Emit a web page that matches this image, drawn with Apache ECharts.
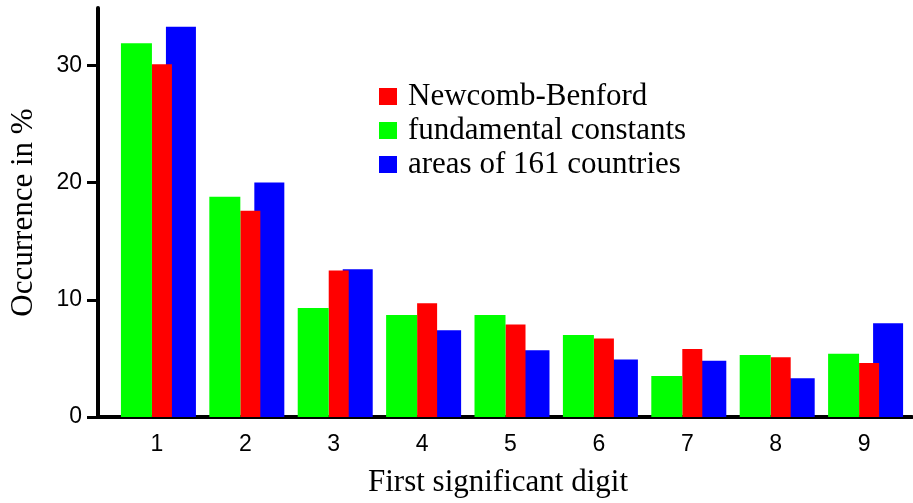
<!DOCTYPE html>
<html>
<head>
<meta charset="utf-8">
<style>
  html, body { margin: 0; padding: 0; background: #ffffff; }
  #chart { width: 913px; height: 503px; }
</style>
<script src="https://cdn.jsdelivr.net/npm/echarts@6/dist/echarts.min.js"></script>
</head>
<body>
<div id="chart"></div>
<script>
// First significant digit of each value
const digits = [1, 2, 3, 4, 5, 6, 7, 8, 9];

// Occurrence in % per first digit
const newcombBenford = [30.1, 17.6, 12.5, 9.7, 7.9, 6.7, 5.8, 5.1, 4.6];
const fundamentalConstants = [31.9, 18.8, 9.3, 8.7, 8.7, 7.0, 3.5, 5.3, 5.4];
const countryAreas = [33.3, 20.0, 12.6, 7.4, 5.7, 4.9, 4.8, 3.3, 8.0];

const yTicks = [0, 10, 20, 30];

const seriesNames = {
  benford: 'Newcomb-Benford',
  constants: 'fundamental constants',
  areas: 'areas of 161 countries'
};

const serif = 'Liberation Serif, Times New Roman, serif';
const sans = 'Liberation Sans, Arial, Helvetica, sans-serif';

// Bars are drawn as rectangles placed relative to the digit's position on the x scale;
// left/right are pixel offsets from that position.
function barRenderer(left, right) {
  return function (params, api) {
    const x = api.value(0);
    const base = api.coord([x, 0]);
    const top = api.coord([x, api.value(1)]);
    return {
      type: 'rect',
      shape: { x: base[0] + left, y: top[1], width: right - left, height: base[1] - top[1] },
      style: { fill: api.visual('color') }
    };
  };
}

function toPoints(values) {
  return digits.map((d, i) => [d, values[i]]);
}

const chart = echarts.init(document.getElementById('chart'), null, { renderer: 'canvas' });

chart.setOption({
  animation: false,
  backgroundColor: '#ffffff',
  grid: { left: 97, right: 1, top: 8, bottom: 82, containLabel: false },
  legend: {
    left: 379,
    top: 81,
    padding: 0,
    orient: 'vertical',
    icon: 'rect',
    itemWidth: 18,
    itemHeight: 17,
    itemGap: 3,
    selectedMode: false,
    data: [seriesNames.benford, seriesNames.constants, seriesNames.areas],
    textStyle: {
      fontFamily: serif,
      fontSize: 31,
      color: '#000000',
      padding: [0, 0, 0, 6]
    }
  },
  xAxis: {
    type: 'value',
    min: 0.3333,
    max: 9.542,
    name: 'First significant digit',
    nameLocation: 'middle',
    nameGap: 50,
    nameTextStyle: { fontFamily: serif, fontSize: 31, color: '#000000', padding: [0, 14, 0, 0] },
    axisLine: { show: true, onZero: false, lineStyle: { color: '#000000', width: 4 } },
    axisTick: { show: false },
    splitLine: { show: false },
    axisLabel: {
      customValues: digits,
      fontFamily: sans,
      fontSize: 23,
      color: '#000000',
      margin: 16
    }
  },
  yAxis: {
    type: 'value',
    min: 0,
    max: 34.9,
    name: 'Occurrence in %',
    nameLocation: 'middle',
    nameGap: 59,
    nameTextStyle: { fontFamily: serif, fontSize: 31, color: '#000000' },
    axisLine: { show: true, lineStyle: { color: '#000000', width: 4 } },
    axisTick: { show: true, customValues: yTicks, length: 11, lineStyle: { color: '#000000', width: 3 } },
    splitLine: { show: false },
    axisLabel: {
      customValues: yTicks,
      fontFamily: sans,
      fontSize: 23,
      color: '#000000',
      margin: 16
    }
  },
  series: [
    {
      name: seriesNames.areas,
      type: 'custom',
      z: 1,
      itemStyle: { color: '#0000ff' },
      renderItem: barRenderer(9, 39),
      encode: { x: 0, y: 1 },
      data: toPoints(countryAreas)
    },
    {
      name: seriesNames.benford,
      type: 'custom',
      z: 2,
      itemStyle: { color: '#ff0000' },
      renderItem: barRenderer(-5, 15),
      encode: { x: 0, y: 1 },
      data: toPoints(newcombBenford)
    },
    {
      name: seriesNames.constants,
      type: 'custom',
      z: 3,
      itemStyle: { color: '#00ff00' },
      renderItem: barRenderer(-36, -5),
      encode: { x: 0, y: 1 },
      data: toPoints(fundamentalConstants)
    }
  ]
});
</script>
</body>
</html>
